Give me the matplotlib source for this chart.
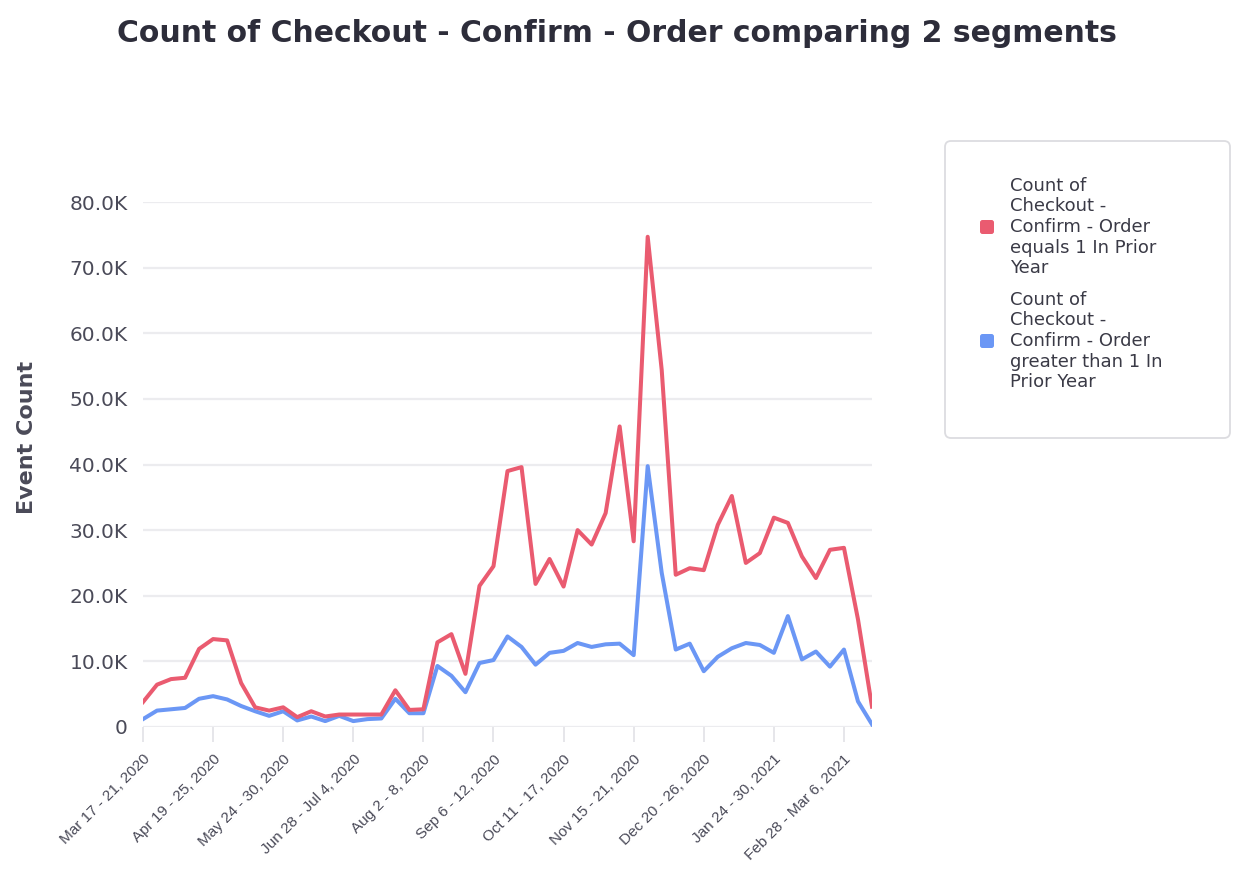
import numpy as np
import matplotlib.pyplot as plt
from matplotlib.patches import FancyBboxPatch
from matplotlib.ticker import FuncFormatter

# weekly buckets, Mar 17 2020 .. Mar 2021 (53 weeks)
n_weeks = 53
tick_idx = [0, 5, 10, 15, 20, 25, 30, 35, 40, 45, 50]
tick_labels = ["Mar 17 - 21, 2020", "Apr 19 - 25, 2020", "May 24 - 30, 2020",
               "Jun 28 - Jul 4, 2020", "Aug 2 - 8, 2020", "Sep 6 - 12, 2020",
               "Oct 11 - 17, 2020", "Nov 15 - 21, 2020", "Dec 20 - 26, 2020",
               "Jan 24 - 30, 2021", "Feb 28 - Mar 6, 2021"]

equals_1 = [3800, 6450, 7300, 7500, 11900, 13400, 13200, 6700, 3000, 2500,
            3000, 1500, 2400, 1600, 1900, 1900, 1900, 1900, 5600, 2600,
            2700, 12900, 14150, 8100, 21500, 24500, 39000, 39600, 21800, 25600,
            21400, 30000, 27800, 32600, 45800, 28300, 74700, 54400, 23200, 24200,
            23900, 30800, 35200, 25000, 26500, 31900, 31100, 26000, 22700, 27000,
            27300, 16400, 3100]

greater_1 = [1200, 2500, 2700, 2900, 4300, 4700, 4200, 3200, 2400, 1700,
             2400, 1000, 1600, 900, 1700, 900, 1200, 1300, 4300, 2100,
             2100, 9300, 7800, 5300, 9750, 10200, 13800, 12200, 9500, 11300,
             11600, 12800, 12200, 12600, 12700, 10950, 39750, 23500, 11800, 12700,
             8500, 10700, 12000, 12800, 12500, 11300, 16900, 10300, 11500, 9200,
             11800, 3900, 400]

label_1 = "Count of\nCheckout -\nConfirm - Order\nequals 1 In Prior\nYear"
label_2 = "Count of\nCheckout -\nConfirm - Order\ngreater than 1 In\nPrior Year"

red = "#ea5b70"
blue = "#6b97f5"
txt = "#4a4a58"

plt.rcParams['font.family'] = ['DejaVu Sans']

fig = plt.figure(figsize=(12.49, 8.89), dpi=100)
ax = fig.add_axes([143/1249, 1-727/889, (872-143)/1249, (727-202)/889])

x = np.arange(n_weeks)
ax.plot(x, greater_1, color=blue, lw=2.9, solid_joinstyle='round')
ax.plot(x, equals_1, color=red, lw=2.9, solid_joinstyle='round')

ax.set_xlim(0, n_weeks - 1)
ax.set_ylim(0, 80000)
ax.set_yticks(np.arange(0, 80001, 10000))
ax.yaxis.set_major_formatter(FuncFormatter(lambda v, p: "0" if v == 0 else f"{v/1000:.1f}K"))
ax.grid(axis='y', color='#ececef', lw=1.6)
ax.set_axisbelow(True)
for s in ax.spines.values():
    s.set_visible(False)

ax.set_xticks(tick_idx)
ax.set_xticklabels(tick_labels, rotation=45, ha='right', rotation_mode='anchor',
                   fontsize=11, color=txt, family='Liberation Sans')
ax.tick_params(axis='x', length=11, width=1.3, color='#e4e4e8', pad=7)
ax.tick_params(axis='y', length=0, pad=11, labelsize=14.5, labelcolor=txt)

ax.set_ylabel("Event Count", fontsize=16, fontweight='bold', color=txt)
ax.yaxis.set_label_coords(-0.145, 0.552)

fig.text(617/1249, 1-33/889, "Count of Checkout - Confirm - Order comparing 2 segments",
         ha='center', va='center', fontsize=21.5, fontweight='bold', color='#2d2d3a')

# legend box
tr = fig.dpi_scale_trans
fig.patches.append(FancyBboxPatch((9.45, 8.89-4.38), 2.85, 2.97, transform=tr,
                                  boxstyle="round,pad=0,rounding_size=0.06",
                                  fc='white', ec='#dcdce0', lw=1.3))
for lab, col, yc in [(label_1, red, 2.27), (label_2, blue, 3.41)]:
    fig.patches.append(FancyBboxPatch((9.80, 8.89-yc-0.07), 0.14, 0.14, transform=tr,
                                      boxstyle="round,pad=0,rounding_size=0.025",
                                      fc=col, ec='none'))
    fig.text(10.10, 8.89-yc, lab, transform=tr, ha='left', va='center',
             fontsize=13, color='#3a3a46', linespacing=1.18)

fig.savefig("out.png", dpi=100)
